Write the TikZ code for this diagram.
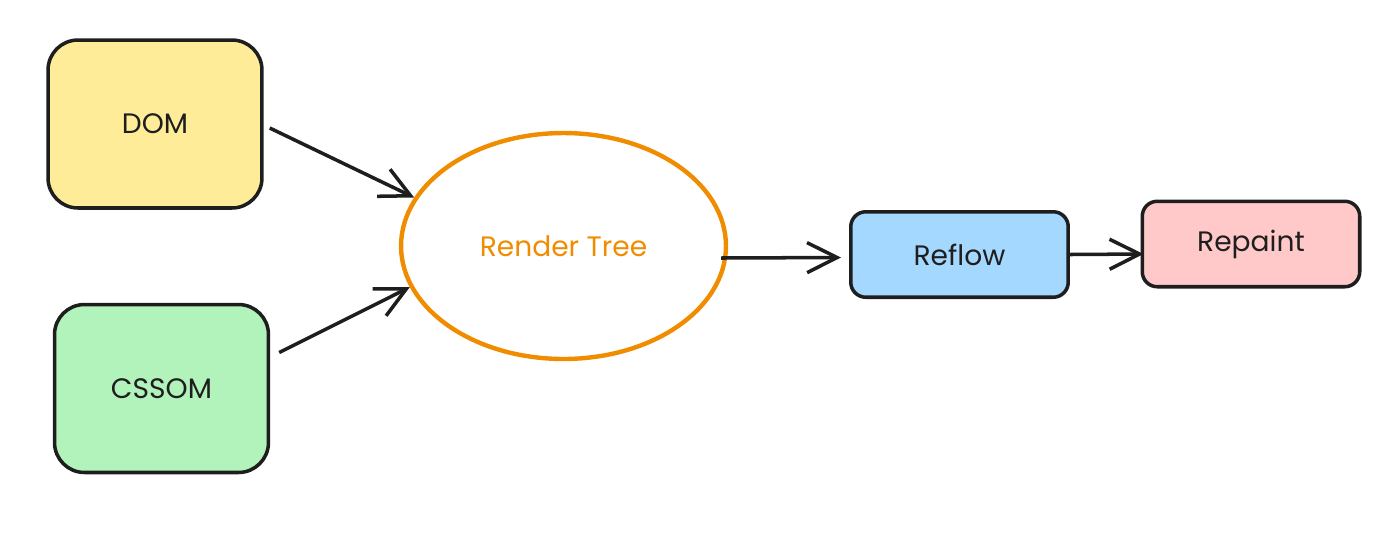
\documentclass[tikz,border=0pt]{standalone}
\usepackage{fontspec}
\setmainfont{Poppins}
\usepackage{tikz}
\usetikzlibrary{shapes.geometric,arrows.meta,positioning,calc}
\definecolor{inkcol}{HTML}{1E1E1E}
\definecolor{domcol}{HTML}{FFEC99}
\definecolor{csscol}{HTML}{B2F2BB}
\definecolor{rtcol}{HTML}{F08C00}
\definecolor{rflcol}{HTML}{A5D8FF}
\definecolor{rpcol}{HTML}{FFC9C9}

\begin{document}
\begin{tikzpicture}[x=0.02cm,y=-0.02cm,
  blk/.style={draw=inkcol,line width=2pt,rounded corners=0.6cm,font=\fontsize{16}{19}\selectfont,text=inkcol,align=center},
  bigblk/.style={blk,minimum width=4.28cm,minimum height=3.36cm},
  smallblk/.style={blk,rounded corners=0.3cm,minimum width=4.35cm,minimum height=1.71cm},
  arr/.style={draw=inkcol,line width=2pt,-{Straight Barb[length=6mm,width=6mm,line width=2pt]}}]
  \useasboundingbox (0,0) rectangle (1400,539);
  \node[bigblk,fill=domcol] (dom) at (155,124) {DOM};
  \node[bigblk,fill=csscol] (cssom) at (161.5,388.5) {CSSOM};
  \node[draw=rtcol,line width=2.5pt,ellipse,minimum width=6.5cm,minimum height=4.52cm,inner sep=0pt,
    font=\fontsize{16}{19}\selectfont,text=rtcol] (render) at (563.5,246) {Render Tree};
  \node[smallblk,fill=rflcol] (reflow) at (959.5,254.5) {Reflow};
  \node[smallblk,fill=rpcol] (repaint) at (1251,244) {Repaint};
  % connectors
  \draw[arr] ([shift={(6,4)}]dom.east) -- (render.162);
  \draw[arr] ([shift={(9,-36)}]cssom.east) -- (render.195);
  \draw[arr] ([shift={(-7,12)}]render.east) -- ([shift={(-8,3)}]reflow.west);
  \draw[arr] (reflow.east) -- ([shift={(3,10)}]repaint.west);
\end{tikzpicture}
\end{document}
